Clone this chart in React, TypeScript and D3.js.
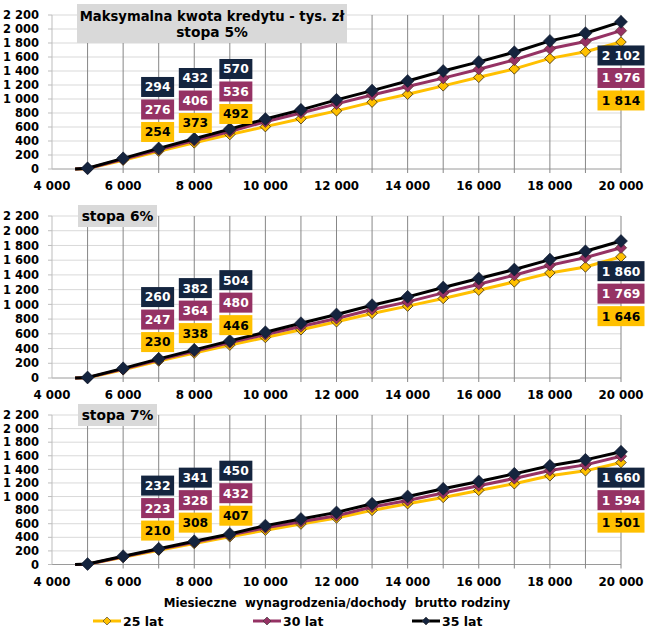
import React from 'react';
import * as d3 from 'd3';

// ---- data (thousand zł) ----
const incomes = [5000, 6000, 7000, 8000, 9000, 10000, 11000, 12000, 13000, 14000, 15000, 16000, 17000, 18000, 19000, 20000];
const lineStartIncome = 4650; // credit reaches zero here
const seriesNames = ['25 lat', '30 lat', '35 lat'];

const rate5_25 = [5, 125, 254, 373, 492, 605, 718, 830, 955, 1068, 1188, 1310, 1430, 1580, 1675, 1814];
const rate5_30 = [8, 140, 276, 406, 536, 675, 800, 930, 1058, 1178, 1298, 1425, 1558, 1718, 1822, 1976];
const rate5_35 = [10, 152, 294, 432, 570, 714, 845, 988, 1120, 1258, 1400, 1530, 1668, 1830, 1940, 2102];

const rate6_25 = [3, 110, 230, 338, 446, 550, 655, 763, 877, 976, 1080, 1192, 1305, 1427, 1508, 1646];
const rate6_30 = [5, 120, 247, 364, 480, 590, 700, 809, 931, 1034, 1156, 1274, 1396, 1531, 1635, 1769];
const rate6_35 = [7, 131, 260, 382, 504, 622, 744, 863, 989, 1102, 1229, 1351, 1473, 1608, 1721, 1860];

const rate7_25 = [3, 105, 210, 308, 407, 505, 595, 684, 796, 894, 987, 1090, 1188, 1305, 1378, 1501];
const rate7_30 = [5, 115, 223, 328, 432, 540, 630, 718, 846, 943, 1051, 1158, 1266, 1383, 1466, 1594];
const rate7_35 = [7, 122, 232, 341, 450, 572, 670, 767, 894, 1002, 1114, 1222, 1334, 1452, 1540, 1660];

const xTickValues = [4000, 6000, 8000, 10000, 12000, 14000, 16000, 18000, 20000];
const xGridValues = [5000, 6000, 7000, 8000, 9000, 10000, 11000, 12000, 13000, 14000, 15000, 16000, 17000, 18000, 19000, 20000];
const yTickValues = [0, 200, 400, 600, 800, 1000, 1200, 1400, 1600, 1800, 2000, 2200];

const labelIncomes = [7000, 8000, 9000, 20000];
// where the label stacks sit (data units: income, value of the bottom box centre)
const labelBoxIncome = [6970, 8030, 9170, 20000];
const labelAnchor5 = [529, 657, 786, 979];
const labelAnchor6 = [488, 610, 718, 840];
const labelAnchor7 = [499, 616, 718, 616];

const chartTitle = 'Maksymalna kwota kredytu - tys. zł';
const panelTitles = ['stopa 5%', 'stopa 6%', 'stopa 7%'];
const xAxisTitle = 'Miesieczne  wynagrodzenia/dochody  brutto rodziny';

// ---- styles ----
const W = 653;
const H = 630;
const FONT = "'DejaVu Sans', Verdana, sans-serif";
const lineColors = ['#FFC000', '#953264', '#000000'];
const markerFill = ['#FFC000', '#953264', '#15243E'];
const boxFill = ['#FFC000', '#953264', '#14253F'];
const boxText = ['#000000', '#FFFFFF', '#FFFFFF'];
const markerSize = [10.5, 11.5, 13];

const fmt = d3.formatLocale({ decimal: ',', thousands: '\u00a0', grouping: [3], currency: ['', ''] }).format(',d');
const fmtSp = (v: number) => fmt(v).replace('\u00a0', ' ');

const x = d3.scaleLinear().domain([4000, 20000]).range([52, 621]);

type PanelCfg = {
  series: number[][];
  anchors: number[];
  y0: number;
  yTop: number;
};

const panels: PanelCfg[] = [
  { series: [rate5_25, rate5_30, rate5_35], anchors: labelAnchor5, y0: 169, yTop: 15 },
  { series: [rate6_25, rate6_30, rate6_35], anchors: labelAnchor6, y0: 378, yTop: 216 },
  { series: [rate7_25, rate7_30, rate7_35], anchors: labelAnchor7, y0: 564.5, yTop: 415 },
];

const diamond = (cx: number, cy: number, w: number) => {
  const h = w / 2;
  return `M${cx},${cy - h}L${cx + h},${cy}L${cx},${cy + h}L${cx - h},${cy}Z`;
};

function Panel({ cfg, idx }: { cfg: PanelCfg; idx: number }) {
  const y = d3.scaleLinear().domain([0, 2200]).range([cfg.y0, cfg.yTop]);
  const line = d3
    .line<[number, number]>()
    .x((d) => x(d[0]))
    .y((d) => y(d[1]));
  const xl = x.range();
  return (
    <g>
      {/* horizontal grid */}
      {yTickValues.map((v) => (
        <g key={'h' + v}>
          <line x1={xl[0]} x2={xl[1]} y1={y(v)} y2={y(v)} stroke={v === 0 ? '#9a9a9a' : '#d9d9d9'} strokeWidth={1} />
          <line x1={xl[0] - 4} x2={xl[0]} y1={y(v)} y2={y(v)} stroke="#bdbdbd" strokeWidth={1} />
          <text x={39} y={y(v)} dy="0.36em" textAnchor="end" fontFamily={FONT} fontWeight="bold" fontSize={11.5} fill="#000">
            {fmtSp(v)}
          </text>
        </g>
      ))}
      <line x1={xl[0]} x2={xl[0]} y1={y(2200)} y2={y(0)} stroke="#bdbdbd" strokeWidth={1} />
      {/* vertical grid */}
      {xGridValues.map((v) => (
        <line key={'v' + v} x1={x(v)} x2={x(v)} y1={y(2200)} y2={y(0) + 4} stroke="#878787" strokeWidth={1} />
      ))}
      {xTickValues.map((v) => (
        <text key={'xt' + v} x={x(v)} y={y(0) + 17} dy="0.36em" textAnchor="middle" fontFamily={FONT} fontWeight="bold" fontSize={11.8} fill="#000">
          {fmtSp(v)}
        </text>
      ))}
      {/* series */}
      {cfg.series.map((vals, s) => {
        const pts: [number, number][] = [[lineStartIncome, 0], ...incomes.map((inc, i) => [inc, vals[i]] as [number, number])];
        return (
          <g key={'s' + s}>
            <path d={line(pts) || ''} fill="none" stroke={lineColors[s]} strokeWidth={3} strokeLinejoin="round" />
            {incomes.map((inc, i) => (
              <path key={i} d={diamond(x(inc), y(vals[i]), markerSize[s])} fill={markerFill[s]} stroke={s === 2 ? '#0d1526' : '#3a2a10'} strokeWidth={s === 0 ? 0.8 : 0.5} />
            ))}
          </g>
        );
      })}
      {/* labels */}
      {labelIncomes.map((inc, li) => {
        const iIdx = incomes.indexOf(inc);
        const cx = x(labelBoxIncome[li]);
        const baseY = y(cfg.anchors[li]);
        return (
          <g key={'l' + li}>
            {cfg.series.map((vals, s) => {
              const txt = fmtSp(vals[iIdx]);
              const w = txt.length > 3 ? 47 : 33;
              const cy = baseY - s * 22.5;
              return (
                <g key={s}>
                  <rect x={cx - w / 2} y={cy - 10} width={w} height={20} fill={boxFill[s]} />
                  <text x={cx} y={cy} dy="0.36em" textAnchor="middle" fontFamily={FONT} fontWeight="bold" fontSize={12.3} fill={boxText[s]}>
                    {txt}
                  </text>
                </g>
              );
            })}
          </g>
        );
      })}
      {/* panel title */}
      {idx === 0 ? (
        <g>
          <rect x={77} y={4} width={270} height={39} fill="#d9d9d9" />
          <text x={212} y={21} textAnchor="middle" fontFamily={FONT} fontWeight="bold" fontSize={13.2} fill="#000">
            {chartTitle}
          </text>
          <text x={212} y={37} textAnchor="middle" fontFamily={FONT} fontWeight="bold" fontSize={13.8} fill="#000">
            {panelTitles[0]}
          </text>
        </g>
      ) : (
        <g>
          <rect x={78} y={cfg.yTop - 11} width={79} height={22} fill="#d9d9d9" />
          <text x={117.5} y={cfg.yTop} dy="0.36em" textAnchor="middle" fontFamily={FONT} fontWeight="bold" fontSize={13.8} fill="#000">
            {panelTitles[idx]}
          </text>
        </g>
      )}
    </g>
  );
}

export default function App() {
  const legendX = [93, 253, 412];
  const legendY = 621;
  return (
    <svg width={W} height={H} style={{ position: 'absolute', left: 0, top: 0, background: '#fff' }}>
      <rect width={W} height={H} fill="#fff" />
      {panels.map((p, i) => (
        <Panel key={i} cfg={p} idx={i} />
      ))}
      <text x={337} y={603} dy="0.36em" textAnchor="middle" fontFamily={FONT} fontWeight="bold" fontSize={11.8} fill="#000" style={{ whiteSpace: 'pre' }}>
        {xAxisTitle}
      </text>
      {seriesNames.map((n, s) => (
        <g key={n}>
          <line x1={legendX[s]} x2={legendX[s] + 28} y1={legendY} y2={legendY} stroke={lineColors[s]} strokeWidth={3} />
          <path d={diamond(legendX[s] + 14, legendY, 8)} fill={markerFill[s]} stroke="#333" strokeWidth={0.6} />
          <text x={legendX[s] + 30} y={legendY} dy="0.36em" fontFamily={FONT} fontWeight="bold" fontSize={12.5} fill="#000">
            {n}
          </text>
        </g>
      ))}
    </svg>
  );
}
